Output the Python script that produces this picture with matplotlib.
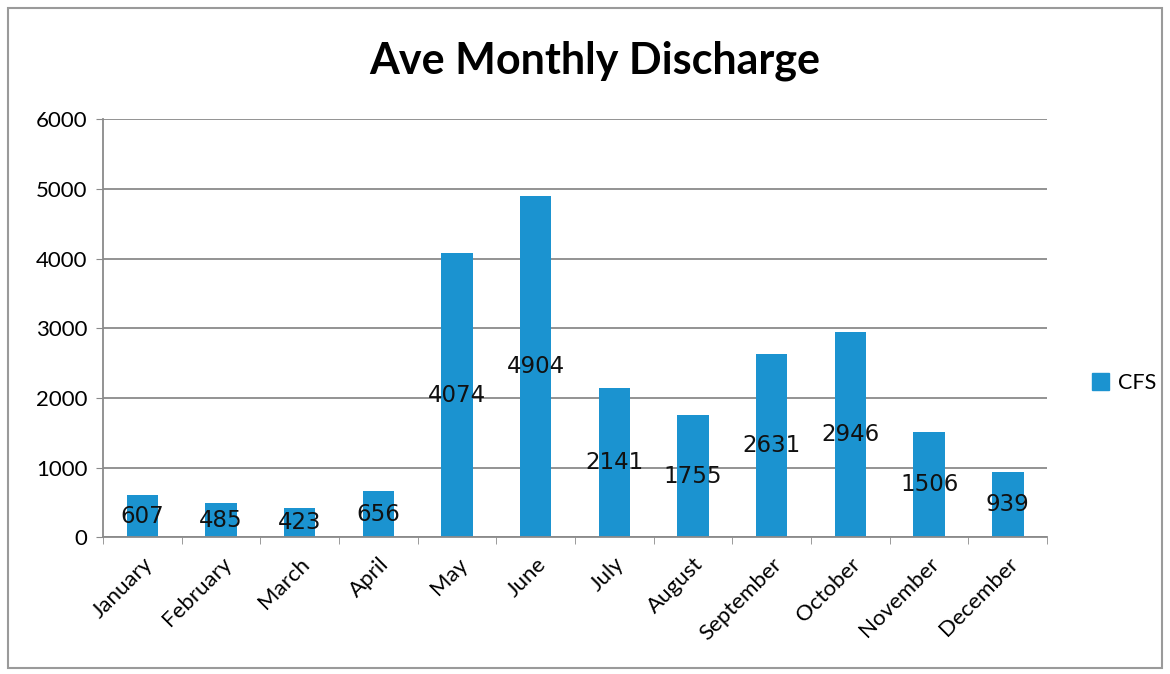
import matplotlib
matplotlib.use("Agg")
import matplotlib.pyplot as plt
from matplotlib.patches import Rectangle, Patch
from matplotlib.ticker import FixedLocator

plt.rcParams["font.family"] = ["Lato", "DejaVu Sans"]

MONTHS = ["January", "February", "March", "April", "May", "June", "July",
          "August", "September", "October", "November", "December"]
CFS = [607, 485, 423, 656, 4074, 4904, 2141, 1755, 2631, 2946, 1506, 939]
Y_TICKS = [0, 1000, 2000, 3000, 4000, 5000, 6000]

BAR_COLOR = "#1b93d0"
GRID_COLOR = "#8a8a8a"

fig = plt.figure(figsize=(11.7, 6.74), dpi=100)
ax = fig.add_axes([0.088, 0.203, 0.807, 0.620])

x = range(len(MONTHS))
ax.bar(x, CFS, width=0.4, color=BAR_COLOR, zorder=2, label="CFS")

# data labels centred in each bar, Excel style
for xi, v in zip(x, CFS):
    ax.text(xi, v / 2, str(v), ha="center", va="center", fontsize=16.5,
            color="#111111", family=["DejaVu Sans"], zorder=3)

ax.set_xlim(-0.5, len(MONTHS) - 0.5)
ax.set_ylim(0, 6000)
ax.set_yticks(Y_TICKS)
ax.set_yticklabels([str(t) for t in Y_TICKS], fontsize=16)
ax.grid(axis="y", color=GRID_COLOR, linewidth=1.3, zorder=0)

ax.set_xticks(list(x))
ax.set_xticklabels(MONTHS, rotation=45, ha="right", rotation_mode="anchor", fontsize=16)
ax.tick_params(axis="x", which="major", length=0, pad=12)
ax.xaxis.set_minor_locator(FixedLocator([i - 0.5 for i in range(len(MONTHS) + 1)]))
ax.tick_params(axis="x", which="minor", length=5, color=GRID_COLOR)
ax.tick_params(axis="y", length=5, color=GRID_COLOR, pad=6)

for side in ["top", "right"]:
    ax.spines[side].set_visible(False)
for side in ["left", "bottom"]:
    ax.spines[side].set_color(GRID_COLOR)
    ax.spines[side].set_linewidth(1.3)

fig.text(0.508, 0.91, "Ave Monthly Discharge", ha="center", va="center",
         fontsize=31, fontweight="bold")

fig.legend(handles=[Patch(color=BAR_COLOR, label="CFS")], loc="center left",
           bbox_to_anchor=(0.917, 0.432), frameon=False, fontsize=15.5,
           handlelength=0.8, handleheight=0.8, handletextpad=0.4)

# scanned-page frame
fig.patches.append(Rectangle((0.007, 0.009), 0.986, 0.979, transform=fig.transFigure,
                             fill=False, edgecolor="#9a9a9a", linewidth=1.5))

fig.savefig("out.png", dpi=100)
